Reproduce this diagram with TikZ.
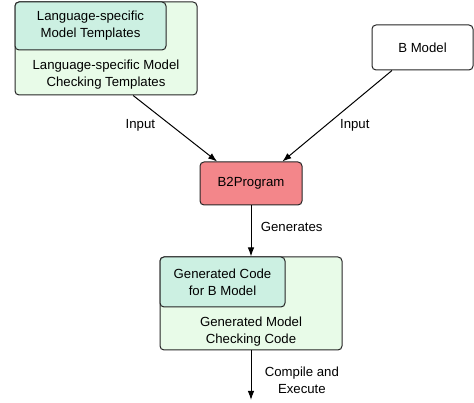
\documentclass[tikz,border=0pt]{standalone}
\usepackage{fontspec}
\setmainfont{Liberation Sans}
\usetikzlibrary{positioning}
\usetikzlibrary{arrows.meta}

\definecolor{outergreen}{RGB}{232,251,232}
\definecolor{innerteal}{RGB}{204,240,226}
\definecolor{toolred}{RGB}{243,134,138}

\begin{document}
\begin{tikzpicture}[x=1pt,y=1pt,>={Latex[length=9pt,width=6.5pt]}, font=\fontsize{13.2}{17}\selectfont,
 box/.style={draw=black!85,rounded corners=4pt,line width=1pt},
 outerbox/.style={box,fill=outergreen},
 innerbox/.style={box,fill=innerteal,align=center},
 txt/.style={align=center},
 flow/.style={->,line width=1pt},
 ]
 \useasboundingbox (0,0) rectangle (474,403);

 \node[outerbox,minimum width=182pt,minimum height=93pt] (tmpl) at (106,354.5) {};
 \node[innerbox,minimum width=151pt,minimum height=48pt] (mtmpl) at (90.5,377) {Language-specific\\Model Templates};
 \node[txt] (tmpltxt) at (106,328) {Language-specific Model\\Checking Templates};

 \node[box,fill=white,minimum width=101pt,minimum height=45pt] (bmod) at (422.5,355.5) {B Model};

 \node[box,fill=toolred,minimum width=102pt,minimum height=43pt] (b2p) at (251,219.5) {B2Program};

 \node[outerbox,minimum width=182pt,minimum height=93pt] (gen) at (251,99.5) {};
 \node[innerbox,minimum width=125pt,minimum height=50pt] (gcode) at (222.5,121) {Generated Code\\for B Model};
 \node[txt] (gentxt) at (251,71) {Generated Model\\Checking Code};

 \coordinate (out) at (251,3);

 \draw[flow] (tmpl.-60) -- node[pos=0.45,left=12pt] {Input} (b2p.147);
 \draw[flow] (bmod.217) -- node[pos=0.6,right=10pt] {Input} (b2p.35);
 \draw[flow] (b2p) -- node[pos=0.42,right=6pt] {Generates} (gen);
 \draw[flow] (gen) -- node[pos=0.6,right=10pt,txt] {Compile and\\Execute} (out);

\end{tikzpicture}
\end{document}
